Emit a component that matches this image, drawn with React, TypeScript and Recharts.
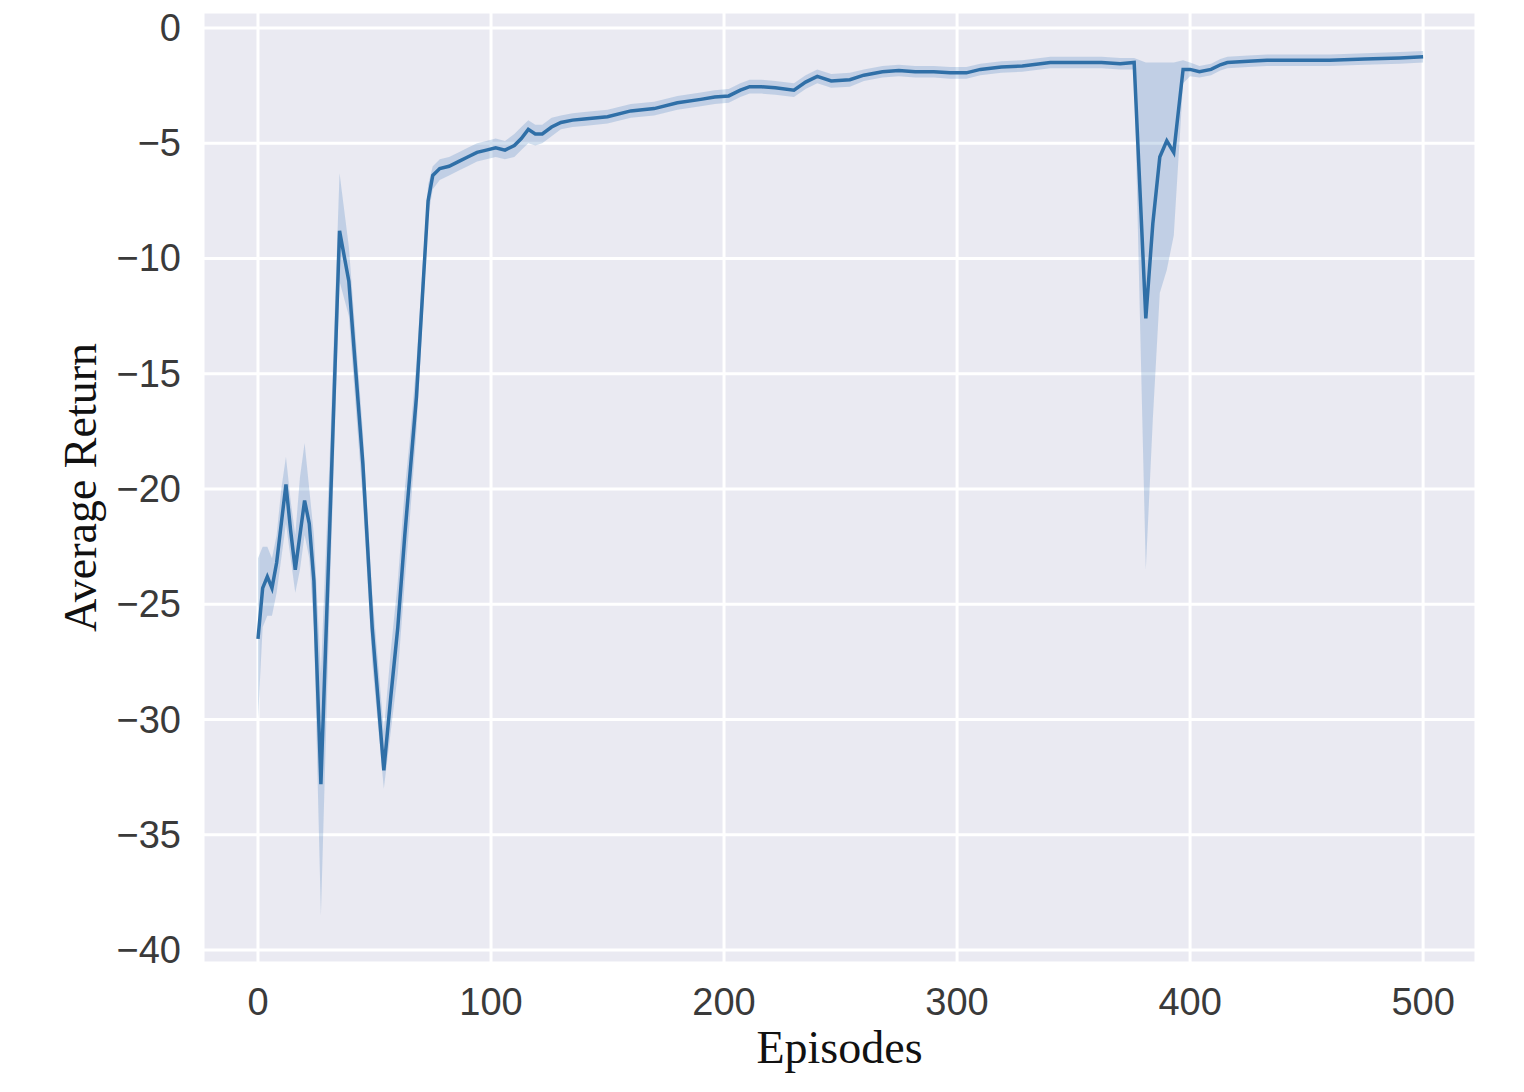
import React from 'react';
import {
  ComposedChart,
  Area,
  Line,
  XAxis,
  YAxis,
  CartesianGrid,
} from 'recharts';

const episodes = [
  0, 2, 4, 6, 8, 10, 12, 14, 16, 18, 20, 22, 24, 27, 31, 35, 39, 45, 49, 54,
  57, 60, 63, 65, 68, 71, 73, 75, 78, 82, 86, 90, 94, 98, 102, 106, 110, 113,
  116, 119, 122, 126, 130, 135, 140, 150, 160, 170, 180, 190, 196, 202, 207,
  211, 216, 222, 230, 235, 240, 246, 254, 260, 268, 275, 282, 290, 297, 304,
  310, 319, 328, 340, 350, 362, 370, 376, 381, 384, 387, 390, 393, 397, 400,
  404, 409, 413, 416, 425, 433, 445, 460, 475, 490, 500,
];

const avgReturn = [
  -26.5, -24.3, -23.8, -24.3, -23.2, -21.5, -19.8, -21.8, -23.5, -22.0, -20.5,
  -21.5, -24.0, -32.8, -21.0, -8.8, -11.0, -18.9, -26.0, -32.2,
  -29.0, -26.0, -22.0, -19.6, -16.0, -10.9, -7.5, -6.4, -6.1, -6.0, -5.8, -5.6,
  -5.4, -5.3, -5.2, -5.3, -5.1, -4.8,
  -4.4, -4.6, -4.6, -4.3, -4.1, -4.0, -3.95, -3.85, -3.6, -3.5, -3.25, -3.1,
  -3.0, -2.95, -2.7,
  -2.55, -2.55, -2.6, -2.7, -2.35, -2.1, -2.3, -2.25, -2.05, -1.9, -1.85, -1.9,
  -1.9, -1.95, -1.95,
  -1.8, -1.7, -1.65, -1.5, -1.5, -1.5, -1.55, -1.5, -12.6, -8.5, -5.6, -4.9,
  -5.4, -1.8, -1.8,
  -1.9, -1.8, -1.6, -1.5, -1.45, -1.4, -1.4, -1.4, -1.35, -1.3, -1.25,
];

const bandLow = [
  -30, -26, -25.5, -25.5, -24.5, -23, -21.5, -23, -24.5, -23.5, -22,
  -23, -26, -38.5, -24, -11, -12.5, -20.5, -27.5, -33,
  -30.5, -28, -24, -21.5, -17.5, -12, -8.2, -7, -6.6, -6.4, -6.2, -6.0,
  -5.8, -5.7, -5.6, -5.7, -5.6, -5.3,
  -5.0, -5.1, -5.0, -4.7, -4.4, -4.3, -4.25, -4.15, -3.9, -3.8, -3.55, -3.4,
  -3.3, -3.25, -3.0,
  -2.85, -2.85, -2.9, -3.0, -2.65, -2.4, -2.6, -2.55, -2.3, -2.15, -2.1, -2.15,
  -2.15, -2.2, -2.2,
  -2.05, -1.95, -1.9, -1.75, -1.75, -1.75, -1.8, -1.8, -23.5, -17, -11.5, -10.5,
  -9, -2.4, -2.1,
  -2.15, -2.05, -1.85, -1.75, -1.7, -1.65, -1.65, -1.65, -1.6, -1.55, -1.5,
];

const bandHigh = [
  -23, -22.5, -22.5, -23, -22, -20, -18.6, -20.5, -22, -19.5, -18,
  -20, -22, -28, -18, -6.3, -9.5, -17.5, -24.5, -30.5,
  -27, -24, -20, -18, -14.5, -9.8, -6.8, -6.0, -5.7, -5.6, -5.4, -5.2,
  -5.0, -4.9, -4.8, -4.9, -4.6, -4.3,
  -4.0, -4.2, -4.2, -3.9, -3.8, -3.7, -3.65, -3.55, -3.3, -3.2, -2.95, -2.8,
  -2.7, -2.65, -2.4,
  -2.25, -2.25, -2.3, -2.4, -2.05, -1.8, -2.0, -1.95, -1.8, -1.65, -1.6, -1.65,
  -1.65, -1.7, -1.7,
  -1.55, -1.45, -1.4, -1.25, -1.25, -1.25, -1.3, -1.3, -1.5, -1.5, -1.5, -1.5,
  -1.5, -1.4, -1.5,
  -1.65, -1.55, -1.35, -1.25, -1.2, -1.15, -1.15, -1.15, -1.1, -1.05, -1.0,
];

const xTicks = [0, 100, 200, 300, 400, 500];
const yTicks = [0, -5, -10, -15, -20, -25, -30, -35, -40];

const data = episodes.map((ep, i) => ({
  episode: ep,
  avg: avgReturn[i],
  band: [bandLow[i], bandHigh[i]],
}));

const fmt = (v: number) => (v < 0 ? `\u2212${-v}` : `${v}`);

const tickFont = { fontFamily: '"Liberation Sans", Arial, sans-serif', fontSize: 38, fill: '#3a3a3a' };
const labelFont = { fontFamily: '"Liberation Serif", "Times New Roman", serif', fontSize: 46, fill: '#111' };

const XTick = (props: any) => {
  const { x, y, payload } = props;
  return (
    <text x={x} y={y + 50} textAnchor="middle" {...tickFont}>
      {fmt(payload.value)}
    </text>
  );
};

const YTick = (props: any) => {
  const { x, y, payload } = props;
  return (
    <text x={x - 20} y={y} textAnchor="end" dominantBaseline="central" {...tickFont}>
      {fmt(payload.value)}
    </text>
  );
};

const YLabel = (props: any) => {
  const { x, y, height } = props.viewBox;
  const cx = x + 80;
  const cy = y + height / 2;
  return (
    <text x={cx} y={cy} transform={`rotate(-90 ${cx} ${cy})`} textAnchor="middle" dominantBaseline="central" {...labelFont}>
      Average Return
    </text>
  );
};

const XLabel = (props: any) => {
  const { x, y, width } = props.viewBox;
  return (
    <text x={x + width / 2} y={y + 100} textAnchor="middle" {...labelFont}>
      Episodes
    </text>
  );
};

export default function App() {
  return (
    <div style={{ position: 'absolute', left: 0, top: 0, width: 1524, height: 1092, background: '#fff' }}>
      <ComposedChart
        width={1524}
        height={1092}
        data={data}
        margin={{ top: 12, right: 48, bottom: 0, left: 0 }}
      >
        <CartesianGrid fill="#eaeaf2" stroke="#ffffff" strokeWidth={3} />
        <XAxis
          dataKey="episode"
          type="number"
          domain={[-23.6, 522.7]}
          ticks={xTicks}
          allowDataOverflow
          axisLine={false}
          tickLine={false}
          tickSize={0}
          height={129}
          tick={<XTick />}
          label={<XLabel />}
        />
        <YAxis
          type="number"
          domain={[-40.56, 0.69]}
          ticks={yTicks}
          allowDataOverflow
          axisLine={false}
          tickLine={false}
          tickSize={0}
          width={203}
          tick={<YTick />}
          label={<YLabel />}
        />
        <Area
          dataKey="band"
          type="linear"
          stroke="none"
          fill="#3274b5"
          fillOpacity={0.22}
          isAnimationActive={false}
        />
        <Line
          dataKey="avg"
          type="linear"
          stroke="#2f6fa7"
          strokeWidth={3.5}
          dot={false}
          isAnimationActive={false}
        />
      </ComposedChart>
    </div>
  );
}
